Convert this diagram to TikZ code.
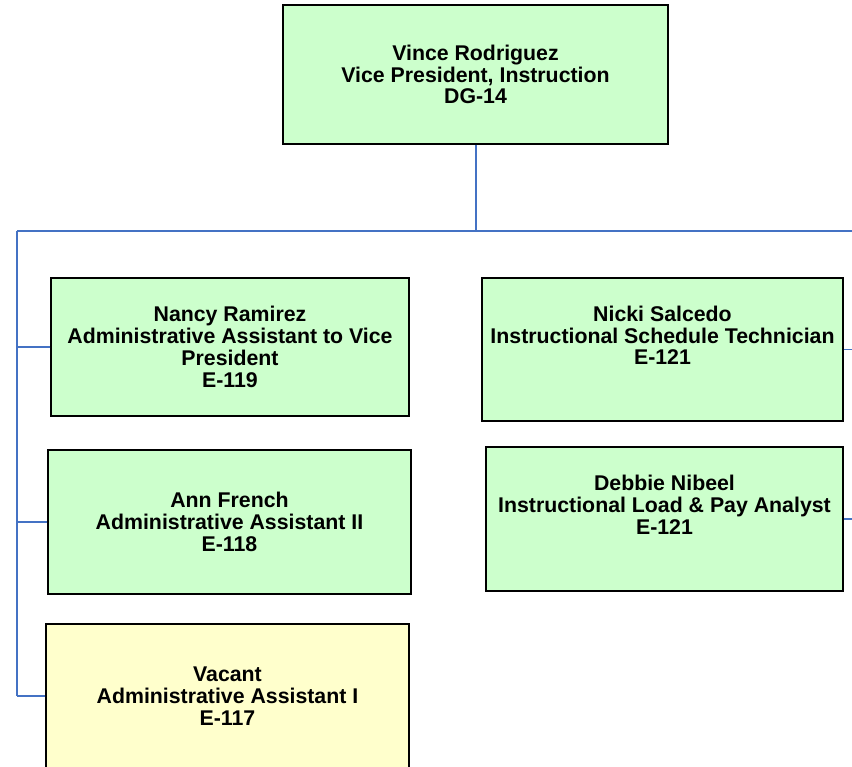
\documentclass[tikz,border=0pt]{standalone}
\usepackage{fontspec}
\setmainfont{Liberation Sans}
\usepackage{tikz}
\definecolor{boxgreen}{RGB}{204,255,204}
\definecolor{boxyellow}{RGB}{255,255,204}
\definecolor{linkblue}{RGB}{68,114,196}

\tikzset{
  posbox/.style={draw=black, line width=1.3pt, fill=boxgreen, align=center,
    inner sep=0pt, font=\fontsize{21.3}{21.8}\selectfont\bfseries},
  trunk/.style={draw=linkblue, line width=2pt},
  branch/.style={draw=linkblue, line width=1.1pt},
}

\begin{document}
\begin{tikzpicture}[x=1pt,y=-1pt]
            \useasboundingbox[fill=white] (0,0) rectangle (852,767);
            \node[posbox, minimum width=385pt, minimum height=139pt] (vp) at (475.5,74.5)
                {Vince Rodriguez\\Vice President, Instruction\\DG-14};
            \node[posbox, minimum width=358pt, minimum height=138pt] (nancy) at (230,347)
                {Nancy Ramirez\\Administrative Assistant to Vice\\President\\E-119};
            \node[posbox, minimum width=363pt, minimum height=144pt] (ann) at (229.5,522)
                {Ann French\\Administrative Assistant II\\E-118};
            \node[posbox, fill=boxyellow, minimum width=363pt, minimum height=144pt] (vacant) at (227.5,696)
                {Vacant\\Administrative Assistant I\\E-117};
            \node[posbox, minimum width=361pt, minimum height=143pt] (nicki) at (662.5,349.5)
                {Nicki Salcedo\\Instructional Schedule Technician\\E-121\\\strut};
            \node[posbox, minimum width=357pt, minimum height=144pt] (debbie) at (664.5,519)
                {Debbie Nibeel\\Instructional Load \& Pay Analyst\\E-121\\\strut};

            % bus
            \coordinate (busleft) at (17,231);
            \coordinate (busright) at (852,231);
            \coordinate (busmid) at (vp.south |- busleft);
            \coordinate (rightedge) at (852,0);
            \draw[trunk] (vp.south) -- (busmid);
            \draw[trunk] (busleft) -- (busright);
            \draw[branch] (busleft) -- (busleft |- vacant.west);

            % branches
            \draw[branch] (nancy.west) -- (nancy.west -| busleft);
            \draw[branch] (ann.west) -- (ann.west -| busleft);
            \draw[branch] (vacant.west) -- (vacant.west -| busleft);
            \draw[branch] (nicki.east) -- (nicki.east -| rightedge);
            \draw[branch] (debbie.east) -- (debbie.east -| rightedge);
        \end{tikzpicture}
\end{document}
